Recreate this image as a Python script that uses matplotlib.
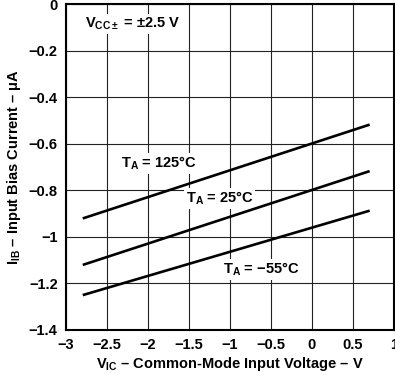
import numpy as np
import matplotlib.pyplot as plt

plt.rcParams['font.family'] = ['Liberation Sans', 'DejaVu Sans']
plt.rcParams['font.weight'] = 'bold'
plt.rcParams['axes.labelweight'] = 'bold'
plt.rcParams['mathtext.fontset'] = 'custom'
plt.rcParams['mathtext.rm'] = 'Liberation Sans:bold'
plt.rcParams['mathtext.it'] = 'Liberation Sans:bold'
plt.rcParams['mathtext.bf'] = 'Liberation Sans:bold'

# common-mode input voltage (V) and input bias current (uA)
vic = [-2.78, 0.69]
ib_125 = [-0.92, -0.52]
ib_25 = [-1.12, -0.72]
ib_m55 = [-1.25, -0.89]

xticks = np.arange(-3, 1.01, 0.5)
yticks = np.arange(-1.4, 0.01, 0.2)

MINUS = '\u2212'
DASH = '\u2013'

def fmt(v):
    v = round(v, 2)
    if v == 0:
        return '0'
    return ('%g' % v).replace('-', MINUS)

fig = plt.figure(figsize=(3.95, 3.75), dpi=100)
ax = fig.add_axes([0.167, 0.121, 0.83, 0.868])

ax.plot(vic, ib_125, color='black', lw=1.9, zorder=4)
ax.plot(vic, ib_25, color='black', lw=1.9, zorder=4)
ax.plot(vic, ib_m55, color='black', lw=1.9, zorder=4)

box = dict(facecolor='white', edgecolor='none', pad=1.5)
ax.text(-2.33, -0.685, r'$\mathrm{T_A}$ = 125°C', fontsize=10.5, va='center', bbox=box, zorder=3)
ax.text(-1.54, -0.836, r'$\mathrm{T_A}$ = 25°C', fontsize=10.5, va='center', bbox=box, zorder=3)
ax.text(-1.085, -1.141, r'$\mathrm{T_A}$ = ' + MINUS + '55°C', fontsize=10.5, va='center', bbox=box, zorder=3)
ax.text(-2.77, -0.086, r'$\mathrm{V_{CC\pm}}$ = ±2.5 V', fontsize=10.5, va='center', bbox=box, zorder=3)

ax.set_xlim(-3, 1)
ax.set_ylim(-1.4, 0)
ax.set_xticks(xticks)
ax.set_xticklabels([fmt(v) for v in xticks])
ax.set_yticks(yticks)
ax.set_yticklabels([fmt(v) for v in yticks])
ax.tick_params(length=0, labelsize=10.5, pad=6)
ax.grid(True, color='#222222', lw=0.8, zorder=1)
ax.set_axisbelow(True)
for s in ax.spines.values():
    s.set_linewidth(1.5)

ax.set_xlabel(r'$\mathrm{V_{IC}}$ ' + DASH + ' Common-Mode Input Voltage ' + DASH + ' V', fontsize=10.5, labelpad=2)
ax.set_ylabel(r'$\mathrm{I_{IB}}$ ' + DASH + ' Input Bias Current ' + DASH + ' μA', fontsize=10.5, labelpad=4)

fig.savefig('out.png', dpi=100)
